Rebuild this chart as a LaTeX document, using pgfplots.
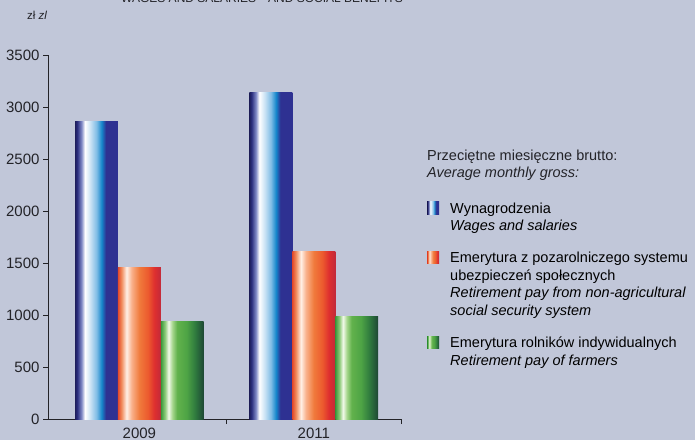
\documentclass[border=0pt]{standalone}
\usepackage{fontspec}
\setmainfont{Liberation Sans}
\usepackage{pgfplots}
\pgfplotsset{compat=1.18}

\definecolor{bg}{RGB}{193,199,217}
\definecolor{axisc}{RGB}{35,35,40}
% blue
\definecolor{b0}{HTML}{1E1E5C}\definecolor{b1}{HTML}{2B2E7E}\definecolor{b2}{HTML}{7F89C6}
\definecolor{b3}{HTML}{FFFFFF}\definecolor{b4}{HTML}{CDE4F5}\definecolor{b5}{HTML}{80BDE6}
\definecolor{b6}{HTML}{1586CB}\definecolor{b7}{HTML}{2E3192}
% red
\definecolor{r0}{HTML}{E34A2C}\definecolor{r1}{HTML}{F08A5A}\definecolor{r2}{HTML}{FFF0E6}
\definecolor{r3}{HTML}{F9B08A}\definecolor{r4}{HTML}{F07A3C}\definecolor{r5}{HTML}{EC5A2E}
\definecolor{r6}{HTML}{DE2F2F}\definecolor{r7}{HTML}{C22A3A}
% green
\definecolor{g0}{HTML}{3A963A}\definecolor{g1}{HTML}{90CC7C}\definecolor{g2}{HTML}{F2F9EA}
\definecolor{g3}{HTML}{A5D68C}\definecolor{g4}{HTML}{62B24C}\definecolor{g5}{HTML}{4EA445}
\definecolor{g6}{HTML}{2F7A3E}\definecolor{g7}{HTML}{1D4634}

\pgfdeclarehorizontalshading{wages}{100bp}{color(0bp)=(b0); color(25bp)=(b0); color(27.5bp)=(b1);
  color(32.5bp)=(b2); color(36.5bp)=(b3); color(42.5bp)=(b4); color(50bp)=(b5);
  color(56bp)=(b6); color(61bp)=(b7); color(100bp)=(b7)}
\pgfdeclarehorizontalshading{retire}{100bp}{color(0bp)=(r0); color(25bp)=(r0); color(29bp)=(r1);
  color(35bp)=(r2); color(41bp)=(r3); color(50bp)=(r4); color(60bp)=(r5);
  color(67.5bp)=(r6); color(75bp)=(r7); color(100bp)=(r7)}
\pgfdeclarehorizontalshading{farmers}{100bp}{color(0bp)=(g0); color(25bp)=(g0); color(30bp)=(g1);
  color(34bp)=(g2); color(38.5bp)=(g3); color(44bp)=(g4); color(55bp)=(g5);
  color(65bp)=(g6); color(75bp)=(g7); color(100bp)=(g7)}

\newcommand{\lfont}{\fontsize{14.5}{17.5}\selectfont}

% swatch raised to the first line of an n-line entry
\pgfplotsset{
  swatch/.style 2 args={legend image code/.code={
    \shade[shading=#1] (0pt,{(#2-1)*17.5pt-1pt}) rectangle (12pt,{(#2-1)*17.5pt+11.5pt});}},
  wg/.style={draw=none, shading=wages, bar shift=-0.246, swatch={wages}{2}},
  rt/.style={draw=none, shading=retire, bar shift=0, swatch={retire}{4}},
  fm/.style={draw=none, shading=farmers, bar shift=0.246, swatch={farmers}{2}},
}

\begin{document}
\begin{tikzpicture}
\fill[bg] (0,0) rectangle (695pt,440pt);
\useasboundingbox (0,0) rectangle (695pt,440pt);

% title, cut off at the top edge as in the source
\node[anchor=base, inner sep=0pt, font=\fontsize{12}{14}\selectfont, text=axisc]
  at (262pt,437.5pt) {WAGES AND SALARIES\quad AND SOCIAL BENEFITS};
\node[anchor=base west, inner sep=0pt, font=\fontsize{11.5}{13}\selectfont, text=axisc]
  at (27pt,420pt) {zł \textit{zl}};

\begin{axis}[
  at={(48pt,21pt)}, anchor=south west,
  scale only axis, width=353pt, height=364pt,
  xmin=-0.524, xmax=1.5, ymin=0, ymax=3500,
  axis lines*=left, axis line style={axisc, line width=0.9pt},
  ybar, bar width=0.246,
  xtick={0,1}, xticklabels={2009,2011}, major x tick style={draw=none},
  minor xtick={0.5,1.5}, minor x tick style={axisc, line width=0.9pt},
  minor tick length=5pt,
  ytick={0,500,...,3500}, y tick style={axisc, line width=0.9pt},
  major tick length=5pt, tick align=outside,
  ticklabel style={font=\fontsize{15}{17}\selectfont, text=axisc},
  /pgf/number format/assume math mode=true,
  /pgf/number format/1000 sep={},
  legend style={at={(1.0737,0.605)}, anchor=north west, draw=none, fill=none,
    inner sep=0pt, row sep=14.5pt, column sep=9pt,
    cells={anchor=base west, inner sep=0pt}, font=\lfont},
]
\addplot[wg] coordinates {(0,2856)};
\addplot[wg, forget plot] coordinates {(1,3135)};
\addplot[rt] coordinates {(0,1452)};
\addplot[rt, forget plot] coordinates {(1,1615)};
\addplot[fm] coordinates {(0,933)};
\addplot[fm, forget plot] coordinates {(1,990)};
\legend{{\begin{tabular}[b]{@{}l@{}}Wynagrodzenia\\\textit{Wages and salaries}\end{tabular}},
  {\begin{tabular}[b]{@{}l@{}}Emerytura z pozarolniczego systemu\\ubezpieczeń społecznych\\\textit{Retirement pay from non-agricultural}\\\textit{social security system}\end{tabular}},
  {\begin{tabular}[b]{@{}l@{}}Emerytura rolników indywidualnych\\\textit{Retirement pay of farmers}\end{tabular}}}
\end{axis}

\node[anchor=base west, inner sep=0pt, font=\lfont, text=axisc] at (427pt,280pt)
  {\begin{tabular}[t]{@{}l@{}}Przeciętne miesięczne brutto:\\\textit{Average monthly gross:}\end{tabular}};
\end{tikzpicture}
\end{document}
